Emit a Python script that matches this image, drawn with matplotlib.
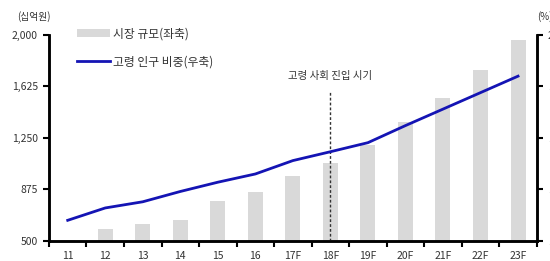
import numpy as np
import matplotlib
matplotlib.use('Agg')
import matplotlib.pyplot as plt
from matplotlib.patches import Patch
from matplotlib.lines import Line2D

plt.rcParams['font.family'] = ['Noto Sans CJK KR', 'DejaVu Sans']

# data
years = ['11', '12', '13', '14', '15', '16', '17F', '18F', '19F', '20F', '21F', '22F', '23F']
market = [505, 585, 622, 655, 789, 859, 971, 1070, 1199, 1368, 1539, 1745, 1963]
elderly = [11.0, 11.6, 11.9, 12.4, 12.85, 13.25, 13.9, 14.33, 14.77, 15.6, 16.4, 17.2, 18.0]
left_ticks = [500, 875, 1250, 1625, 2000]
right_ticks = [10, 12.5, 15, 17.5, 20]

fig = plt.figure(figsize=(5.5, 2.61), dpi=100)
ax = fig.add_axes([0.089, 0.077, 0.887, 0.789])
ax2 = ax.twinx()

x = np.arange(len(years))
ax.bar(x, np.array(market) - 500, bottom=500, width=0.4, color='#d9d9d9', zorder=1)
ax2.plot(x, elderly, color='#1414b4', lw=2, zorder=3, solid_joinstyle='round')

ax.set_xlim(-0.5, len(years) - 0.5)
ax.set_ylim(500, 2000)
ax2.set_ylim(10, 20)

ax.set_yticks(left_ticks)
ax.set_yticklabels(['{:,}'.format(v) for v in left_ticks])
ax2.set_yticks(right_ticks)
ax2.set_yticklabels(['20' if v == 20 else '{:.1f}'.format(v) for v in right_ticks])

ax.set_xticks(x)
ax.set_xticklabels(years)
ax.set_xticks(np.arange(len(years) + 1) - 0.5, minor=True)
ax.tick_params(axis='x', which='major', length=0, pad=7, labelsize=7.5, colors='#333333')
ax.tick_params(axis='x', which='minor', length=4, width=1.5, direction='out')
ax.tick_params(axis='y', length=4, width=1.5, direction='out', labelsize=7.5,
               labelcolor='#333333', pad=4)
ax2.tick_params(axis='y', length=4, width=1.5, direction='out', labelsize=7.5,
                labelcolor='#333333', pad=4)

for a in (ax, ax2):
    a.spines['top'].set_visible(False)
    for s in ('left', 'right', 'bottom'):
        a.spines[s].set_linewidth(1.8)

# aged society marker
ax.axvline(7, ymin=0.0, ymax=0.73, color='#333333', ls=(0, (2, 1.5)), lw=1, zorder=4)
ax.text(7, 1700, '고령 사회 진입 시기', ha='center', va='center', fontsize=7.5, color='#333333')

# axis unit labels
fig.text(0.062, 0.935, '(십억원)', ha='center', va='center', fontsize=7, color='#333333')
fig.text(0.99, 0.935, '(%)', ha='center', va='center', fontsize=7, color='#333333')

handles = [Patch(facecolor='#d9d9d9', edgecolor='none'),
           Line2D([0], [0], color='#1414b4', lw=2)]
ax.legend(handles, ['시장 규모(좌축)', '고령 인구 비중(우축)'], loc='upper left',
          bbox_to_anchor=(0.035, 1.09), frameon=False, fontsize=8.5, labelcolor='#333333',
          handlelength=2.8, handleheight=0.6, handletextpad=0.3, labelspacing=1.3)

fig.savefig('out.png', dpi=100)
